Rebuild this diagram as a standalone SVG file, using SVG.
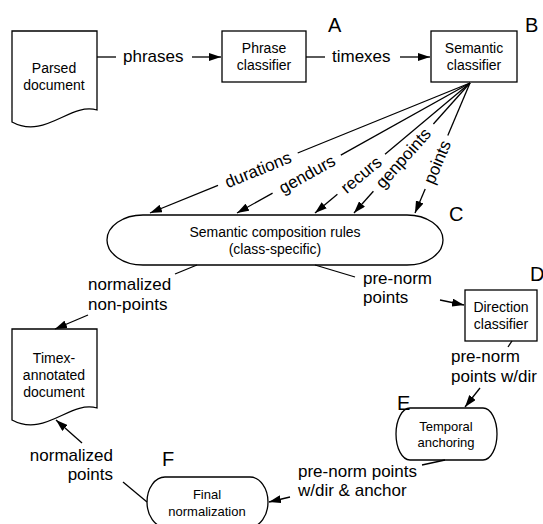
<svg xmlns="http://www.w3.org/2000/svg" width="543" height="524" viewBox="0 0 543 524">
<style>
.shape{fill:#fff;stroke:#000;stroke-width:1.3}
.edge{fill:none;stroke:#000;stroke-width:1.3}
.nt{font-family:"Liberation Sans",Arial,sans-serif;font-size:14px;text-anchor:middle;fill:#000}
.st{font-family:"Liberation Sans",Arial,sans-serif;font-size:13px;text-anchor:middle;fill:#000}
.el{font-family:"Liberation Sans",Arial,sans-serif;font-size:17px;fill:#000}
.tag{font-family:"Liberation Sans",Arial,sans-serif;font-size:20px;fill:#000}
</style>
<defs>
<marker id="ah" viewBox="0 0 12 8" refX="12" refY="4" markerWidth="12" markerHeight="8" markerUnits="userSpaceOnUse" orient="auto">
<path d="M0,0 L12,4 L0,8 Z" fill="#000"/>
</marker>
</defs>

<g id="parsed-document">
<path class="shape" d="M12,31 H97 V110 C70,102 45,140 12,122 Z"/>
<text class="nt" x="54" y="73">Parsed</text>
<text class="nt" x="54" y="90">document</text>
</g>

<g id="phrase-classifier">
<rect class="shape" x="222" y="31" width="84" height="51"/>
<text class="nt" x="264" y="53">Phrase</text>
<text class="nt" x="264" y="70">classifier</text>
<text class="tag" x="328" y="32">A</text>
</g>

<g id="semantic-classifier">
<rect class="shape" x="431" y="31" width="86" height="51"/>
<text class="nt" x="474" y="53">Semantic</text>
<text class="nt" x="474" y="70">classifier</text>
<text class="tag" x="525" y="32">B</text>
</g>

<g id="semantic-composition">
<path class="shape" d="M143,215 H407 A36,25 0 0 1 407,265 H143 A36,25 0 0 1 143,215 Z"/>
<text class="nt" x="275" y="237">Semantic composition rules</text>
<text class="nt" x="275" y="254">(class-specific)</text>
<text class="tag" x="449" y="221">C</text>
</g>

<g id="direction-classifier">
<rect class="shape" x="465" y="290" width="72" height="51"/>
<text class="nt" x="501" y="312">Direction</text>
<text class="nt" x="501" y="329">classifier</text>
<text class="tag" x="530" y="281">D</text>
</g>

<g id="temporal-anchoring">
<path class="shape" d="M410,408 H483 A14,26 0 0 1 483,460 H410 A14,26 0 0 1 410,408 Z"/>
<text class="st" x="446" y="431">Temporal</text>
<text class="st" x="446" y="447">anchoring</text>
<text class="tag" x="397" y="410">E</text>
</g>

<g id="final-normalization">
<path class="shape" d="M165,477 H250 A18,25 0 0 1 250,527 H165 A18,25 0 0 1 165,477 Z"/>
<text class="st" x="207" y="499">Final</text>
<text class="st" x="207" y="516">normalization</text>
<text class="tag" x="162" y="466">F</text>
</g>

<g id="timex-document">
<path class="shape" d="M12,329 H97 V408 C70,400 45,438 12,420 Z"/>
<text class="nt" x="54" y="363">Timex-</text>
<text class="nt" x="54" y="380">annotated</text>
<text class="nt" x="54" y="397">document</text>
</g>

<g id="connectors">
<!-- phrases -->
<line class="edge" x1="97" y1="57" x2="116" y2="57"/>
<line class="edge" x1="192" y1="57" x2="221" y2="57" marker-end="url(#ah)"/>
<text class="el" x="123" y="62">phrases</text>
<!-- timexes -->
<line class="edge" x1="306" y1="57" x2="325" y2="57"/>
<line class="edge" x1="400" y1="57" x2="430" y2="57" marker-end="url(#ah)"/>
<text class="el" x="332" y="62">timexes</text>

<!-- durations -->
<line class="edge" x1="470" y1="83" x2="297.7" y2="153"/>
<line class="edge" x1="218" y1="185.4" x2="150" y2="213" marker-end="url(#ah)"/>
<text class="el" text-anchor="middle" transform="translate(258,169.5) rotate(-22.1)" y="6">durations</text>
<!-- gendurs -->
<line class="edge" x1="470" y1="83" x2="340.8" y2="155.1"/>
<line class="edge" x1="272.6" y1="193.1" x2="237" y2="213" marker-end="url(#ah)"/>
<text class="el" text-anchor="middle" transform="translate(307,174) rotate(-29.2)" y="6">gendurs</text>
<!-- recurs -->
<line class="edge" x1="470" y1="83" x2="385" y2="154.3"/>
<line class="edge" x1="337.4" y1="194.2" x2="315" y2="213" marker-end="url(#ah)"/>
<text class="el" text-anchor="middle" transform="translate(361,174.5) rotate(-40)" y="6">recurs</text>
<!-- genpoints -->
<line class="edge" x1="470" y1="83" x2="433.4" y2="124"/>
<line class="edge" x1="373.4" y1="191.2" x2="354" y2="213" marker-end="url(#ah)"/>
<text class="el" text-anchor="middle" transform="translate(403,158) rotate(-48.3)" y="6">genpoints</text>
<!-- points -->
<line class="edge" x1="470" y1="83" x2="447.8" y2="135.5"/>
<line class="edge" x1="425.2" y1="188.9" x2="415" y2="213" marker-end="url(#ah)"/>
<text class="el" text-anchor="middle" transform="translate(437,162) rotate(-67.1)" y="6">points</text>

<!-- normalized non-points -->
<line class="edge" x1="197" y1="265" x2="175" y2="274"/>
<line class="edge" x1="88" y1="315" x2="55" y2="329" marker-end="url(#ah)"/>
<text class="el" x="88" y="290">normalized</text>
<text class="el" x="88" y="310">non-points</text>

<!-- pre-norm points -->
<line class="edge" x1="315" y1="265" x2="355" y2="277"/>
<line class="edge" x1="440" y1="300" x2="464" y2="305" marker-end="url(#ah)"/>
<text class="el" x="363" y="284">pre-norm</text>
<text class="el" x="363" y="303">points</text>

<!-- pre-norm points w/dir -->
<line class="edge" x1="512" y1="341" x2="508" y2="347"/>
<line class="edge" x1="480" y1="388" x2="465" y2="407" marker-end="url(#ah)"/>
<text class="el" x="451" y="362">pre-norm</text>
<text class="el" x="451" y="382">points w/dir</text>

<!-- pre-norm points w/dir & anchor -->
<line class="edge" x1="445" y1="460" x2="422" y2="465"/>
<line class="edge" x1="290" y1="497" x2="269" y2="502" marker-end="url(#ah)"/>
<text class="el" x="298" y="477">pre-norm points</text>
<text class="el" x="298" y="496">w/dir &amp; anchor</text>

<!-- normalized points -->
<line class="edge" x1="147" y1="502" x2="123" y2="482"/>
<line class="edge" x1="82" y1="443" x2="56" y2="420" marker-end="url(#ah)"/>
<text class="el" x="113" y="461" text-anchor="end">normalized</text>
<text class="el" x="113" y="480" text-anchor="end">points</text>
</g>
</svg>
